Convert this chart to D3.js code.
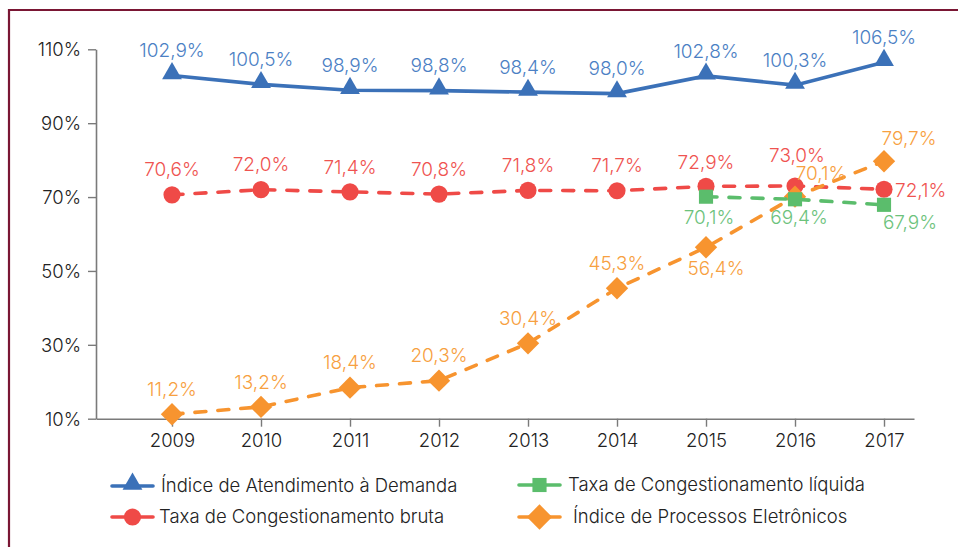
<!DOCTYPE html>
<html lang="pt">
<head>
  <meta charset="UTF-8">
  <title>Indicadores 2009-2017</title>
  <script src="https://d3js.org/d3.v7.min.js"></script>
  <style>
    body {
      margin: 0;
      background: #fff;
      font-family: Inter, "Noto Sans", sans-serif;
    }
    svg { display: block; }
    text { font-weight: 300; }
  </style>
</head>
<body>
  <svg width="958" height="547"></svg>

  <script>
    // dados
    const years = [2009, 2010, 2011, 2012, 2013, 2014, 2015, 2016, 2017];
    const atendimento = [102.9, 100.5, 98.9, 98.8, 98.4, 98.0, 102.8, 100.3, 106.5];
    const congBruta = [70.6, 72.0, 71.4, 70.8, 71.8, 71.7, 72.9, 73.0, 72.1];
    const congLiqYears = [2015, 2016, 2017];
    const congLiquida = [70.1, 69.4, 67.9];
    const eletronicos = [11.2, 13.2, 18.4, 20.3, 30.4, 45.3, 56.4, 70.1, 79.7];
    const yTicks = [10, 30, 50, 70, 90, 110];

    const svg = d3.select("svg");
    const x = d3.scaleLinear().domain([2008.146, 2017.337]).range([96, 914]);
    const y = d3.scaleLinear().domain([10, 110]).range([418.7, 49.3]);
    const fmt = v => d3.format(".1f")(v).replace(".", ",") + "%";

    // moldura
    svg.append("path")
      .attr("d", "M9,547 V10 H958")
      .attr("fill", "none")
      .attr("stroke", "#7a1634")
      .attr("stroke-width", 2.2);

    // eixos
    const axisColor = "#7a7a7a";
    const gy = svg.append("g")
      .attr("transform", "translate(96,0)")
      .call(d3.axisLeft(y).tickValues(yTicks).tickSize(8).tickSizeOuter(0).tickPadding(7).tickFormat(d => d + "%"));
    const gx = svg.append("g")
      .attr("transform", `translate(0,${y(10)})`)
      .call(d3.axisBottom(x).tickValues(years).tickSize(8).tickSizeOuter(0).tickPadding(7).tickFormat(d3.format("d")));
    [gx, gy].forEach(g => {
      g.select(".domain").attr("stroke", axisColor).attr("stroke-width", 1.6);
      g.selectAll(".tick line").attr("stroke", axisColor).attr("stroke-width", 1.4);
      g.selectAll("text")
        .attr("fill", "#222")
        .style("font-family", "Inter, 'Noto Sans', sans-serif")
        .style("font-size", "18.5px");
    });
    gy.selectAll("text").attr("dy", "0.35em");

    const diamond = { draw(ctx, size) {
      const r = Math.sqrt(size / 2);
      ctx.moveTo(0, -r); ctx.lineTo(r, 0); ctx.lineTo(0, r); ctx.lineTo(-r, 0); ctx.closePath();
    } };

    // pos: [dx, dy, anchor]
    const A = [0, -25, "middle"];
    const series = [
      { name: "Taxa de Congestionamento bruta", xs: years, vals: congBruta, color: "#ef4a47", label: "#ef5350", symbol: d3.symbolCircle, size: 230, dash: true,
        pos: [A, A, A, A, A, A, [0, -24, "middle"], [2, -31, "middle"], [11, 1, "start"]] },
      { name: "Índice de Processos Eletrônicos", xs: years, vals: eletronicos, color: "#f7942f", label: "#f7a040", symbol: diamond, size: 250, dash: true,
        pos: [A, A, A, A, A, A, [10, 21, "middle"], [26, -23, "middle"], [25, -23, "middle"]] },
      { name: "Taxa de Congestionamento líquida", xs: congLiqYears, vals: congLiquida, color: "#5bbd6c", label: "#6cc27b", symbol: d3.symbolSquare, size: 200, dash: true,
        pos: [[3, 21, "middle"], [4, 18, "middle"], [26, 18, "middle"]] },
      { name: "Índice de Atendimento à Demanda", xs: years, vals: atendimento, color: "#3b71b8", label: "#4b80c4", symbol: d3.symbolTriangle, size: 170, dash: false,
        pos: years.map(() => A) }
    ];

    const line = d3.line().x(d => x(d[0])).y(d => y(d[1]));

    series.forEach(s => {
      const pts = s.xs.map((yr, i) => [yr, s.vals[i]]);
      svg.append("path")
        .datum(pts)
        .attr("d", line)
        .attr("fill", "none")
        .attr("stroke", s.color)
        .attr("stroke-width", 3.6)
        .attr("stroke-linecap", s.dash ? "round" : "butt")
        .attr("stroke-dasharray", s.dash ? "11,12" : null);
      svg.selectAll(null)
        .data(pts)
        .join("path")
        .attr("transform", d => `translate(${x(d[0])},${y(d[1]) - (s.symbol === d3.symbolTriangle ? 2 : 0)})`)
        .attr("d", d3.symbol(s.symbol, s.size))
        .attr("fill", s.color);
    });

    // rótulos
    series.forEach(s => {
      svg.selectAll(null)
        .data(s.xs.map((yr, i) => ({ yr, v: s.vals[i], p: s.pos[i] })))
        .join("text")
        .attr("x", d => x(d.yr) + d.p[0])
        .attr("y", d => y(d.v) + d.p[1])
        .attr("dy", "0.35em")
        .attr("text-anchor", d => d.p[2])
        .attr("fill", s.label)
        .style("font-size", "19px")
        .text(d => fmt(d.v));
    });

    // legenda
    const legendItems = [
      { s: series[3], lx: 112, ly: 486, tx: 161 },
      { s: series[0], lx: 112, ly: 517, tx: 159 },
      { s: series[2], lx: 519, ly: 485, tx: 568 },
      { s: series[1], lx: 519, ly: 517, tx: 573 }
    ];
    legendItems.forEach(it => {
      const g = svg.append("g");
      g.append("line")
        .attr("x1", it.lx).attr("x2", it.lx + 41)
        .attr("y1", it.ly).attr("y2", it.ly)
        .attr("stroke", it.s.color)
        .attr("stroke-width", 3.6)
        .attr("stroke-linecap", "round");
      g.append("path")
        .attr("transform", `translate(${it.lx + 20.5},${it.ly - (it.s.symbol === d3.symbolTriangle ? 2 : 0)})`)
        .attr("d", d3.symbol(it.s.symbol, it.s.symbol === diamond ? 320 : it.s.size))
        .attr("fill", it.s.color);
      g.append("text")
        .attr("x", it.tx).attr("y", it.ly)
        .attr("dy", "0.35em")
        .attr("fill", "#222")
        .style("font-size", "18.5px")
        .text(it.s.name);
    });
  </script>
</body>
</html>
